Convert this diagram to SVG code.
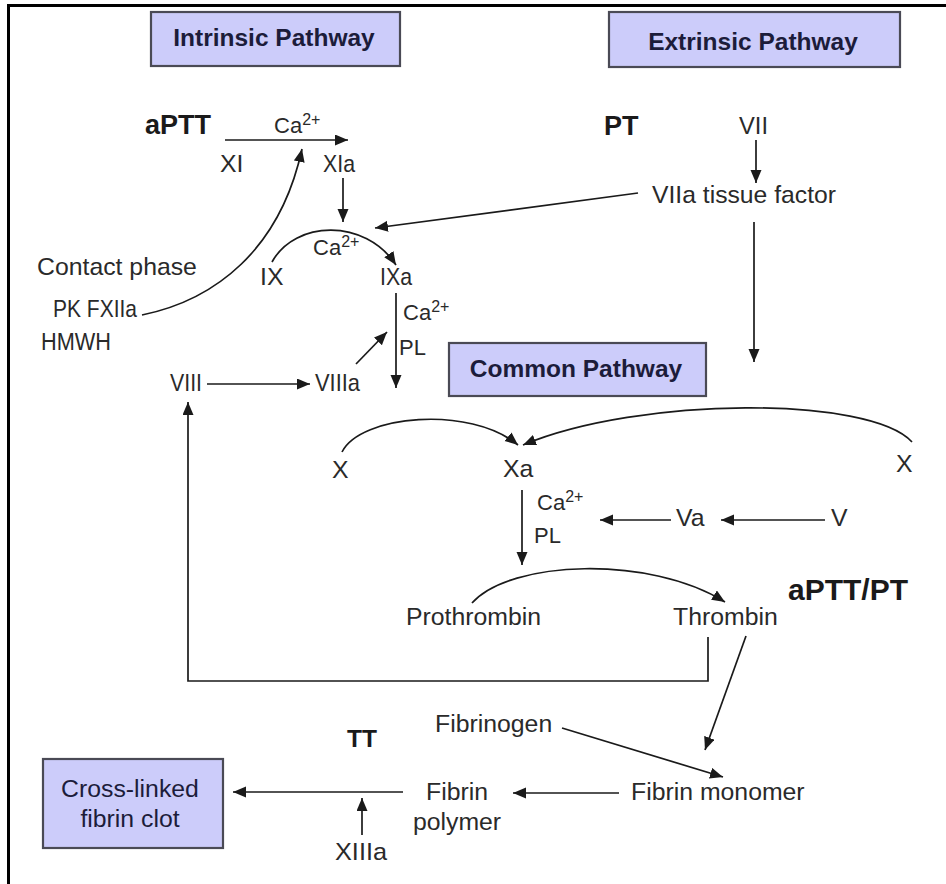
<svg xmlns="http://www.w3.org/2000/svg" width="946" height="884" viewBox="0 0 946 884">
<defs>
<marker id="ah" markerUnits="userSpaceOnUse" markerWidth="14" markerHeight="12" refX="13" refY="5.5" orient="auto">
<path d="M0,0 L13,5.5 L0,11 z" fill="#1a1a1a"/>
</marker>
<style>
.t{font-family:"Liberation Sans",Arial,sans-serif;font-size:24.8px;fill:#2a2a2a}
.b{font-family:"Liberation Sans",Arial,sans-serif;font-weight:bold;fill:#1a1a1a}
.bx{fill:#ccccfa;stroke:#4a4a55;stroke-width:2.2}
.bt{font-family:"Liberation Sans",Arial,sans-serif;font-weight:bold;font-size:24.5px;fill:#1c1c3a;text-anchor:middle}
.ct{font-family:"Liberation Sans",Arial,sans-serif;font-size:24.8px;fill:#1c1c3a;text-anchor:middle}
.c{fill:none;stroke:#1a1a1a;stroke-width:1.7;marker-end:url(#ah)}
.ca{font-family:"Liberation Sans",Arial,sans-serif;font-size:22px;fill:#2a2a2a}
.sup{font-size:16px}
</style>
</defs>
<rect width="946" height="884" fill="#ffffff"/>
<path d="M8.5,884 V5.5 H946" fill="none" stroke="#000" stroke-width="3"/>

<g id="intrinsic"><rect class="bx" x="151" y="12" width="249" height="54"/><text class="bt" x="274" y="46">Intrinsic Pathway</text></g>
<g id="extrinsic"><rect class="bx" x="609" y="12" width="291" height="55"/><text class="bt" x="753" y="50">Extrinsic Pathway</text></g>
<g id="common"><rect class="bx" x="449" y="343" width="257" height="53"/><text class="bt" x="576" y="377">Common Pathway</text></g>
<g id="clot"><rect class="bx" x="43" y="759" width="180" height="89"/><text class="ct" x="130" y="797">Cross-linked</text><text class="ct" x="130" y="827">fibrin clot</text></g>

<g id="aPTT"><text class="b" x="145" y="134" font-size="27">aPTT</text></g>
<g id="PT"><text class="b" x="604" y="135" font-size="27">PT</text></g>
<g id="aPTTPT"><text class="b" x="788" y="600" font-size="30">aPTT/PT</text></g>
<g id="TT"><text class="b" x="347" y="747" font-size="24.5">TT</text></g>

<g id="XI"><text class="t" x="220" y="172">XI</text></g>
<g id="XIa"><text class="t" x="323" y="172" textLength="32" lengthAdjust="spacingAndGlyphs">XIa</text></g>
<g id="ca1"><text class="ca" x="274" y="133">Ca<tspan class="sup" dy="-8">2+</tspan></text></g>
<g id="IX"><text class="t" x="260" y="285">IX</text></g>
<g id="IXa"><text class="t" x="380" y="285" textLength="32" lengthAdjust="spacingAndGlyphs">IXa</text></g>
<g id="ca2"><text class="ca" x="313" y="255">Ca<tspan class="sup" dy="-8">2+</tspan></text></g>
<g id="contact"><text class="t" x="37" y="275">Contact phase</text></g>
<g id="pk"><text class="t" x="53" y="317" textLength="84" lengthAdjust="spacingAndGlyphs">PK FXIIa</text></g>
<g id="hmwh"><text class="t" x="41" y="350" textLength="70" lengthAdjust="spacingAndGlyphs">HMWH</text></g>
<g id="VIII"><text class="t" x="170" y="391" textLength="32" lengthAdjust="spacingAndGlyphs">VIII</text></g>
<g id="VIIIa"><text class="t" x="315" y="391" textLength="45" lengthAdjust="spacingAndGlyphs">VIIIa</text></g>
<g id="ca3"><text class="ca" x="403" y="320">Ca<tspan class="sup" dy="-8">2+</tspan></text><text class="ca" x="399" y="355">PL</text></g>
<g id="VII"><text class="t" x="739" y="134" textLength="29" lengthAdjust="spacingAndGlyphs">VII</text></g>
<g id="VIIa"><text class="t" x="652" y="203" textLength="184" lengthAdjust="spacingAndGlyphs">VIIa tissue factor</text></g>
<g id="X1"><text class="t" x="332" y="478">X</text></g>
<g id="Xa"><text class="t" x="503" y="477">Xa</text></g>
<g id="X2"><text class="t" x="896" y="472">X</text></g>
<g id="ca4"><text class="ca" x="537" y="510">Ca<tspan class="sup" dy="-8">2+</tspan></text><text class="ca" x="534" y="543">PL</text></g>
<g id="Va"><text class="t" x="676" y="526">Va</text></g>
<g id="V"><text class="t" x="831" y="526">V</text></g>
<g id="prothrombin"><text class="t" x="406" y="625">Prothrombin</text></g>
<g id="thrombin"><text class="t" x="673" y="625">Thrombin</text></g>
<g id="fibrinogen"><text class="t" x="435" y="732">Fibrinogen</text></g>
<g id="monomer"><text class="t" x="631" y="800">Fibrin monomer</text></g>
<g id="polymer"><text class="t" x="457" y="800" text-anchor="middle">Fibrin</text><text class="t" x="457" y="830" text-anchor="middle">polymer</text></g>
<g id="XIIIa"><text class="t" x="335" y="860" textLength="52" lengthAdjust="spacingAndGlyphs">XIIIa</text></g>

<g id="connectors">
<path class="c" d="M225,140 H348"/>
<path class="c" d="M142,315 C215,300 280,250 302,149"/>
<path class="c" d="M343,178 V222"/>
<path class="c" d="M272,262 C295,220 365,218 396,265"/>
<path class="c" d="M638,193 L375,228"/>
<path class="c" d="M756,140 V183"/>
<path class="c" d="M754,222 V362"/>
<path class="c" d="M396,293 V388"/>
<path class="c" d="M207,384 H310"/>
<path class="c" d="M356,364 L387,332"/>
<path class="c" d="M342,452 C360,415 470,405 518,445"/>
<path class="c" d="M912,442 C870,396 640,396 523,445"/>
<path class="c" d="M522,490 V565"/>
<path class="c" d="M671,520 H600"/>
<path class="c" d="M825,520 H721"/>
<path class="c" d="M472,603 C510,560 650,555 725,602"/>
<path class="c" d="M708,637 V681 H188 V402"/>
<path class="c" d="M746,636 L705,750"/>
<path class="c" d="M562,728 L723,777"/>
<path class="c" d="M619,793 H513"/>
<path class="c" d="M403,792 H233"/>
<path class="c" d="M362,835 V798"/>
</g>
</svg>
